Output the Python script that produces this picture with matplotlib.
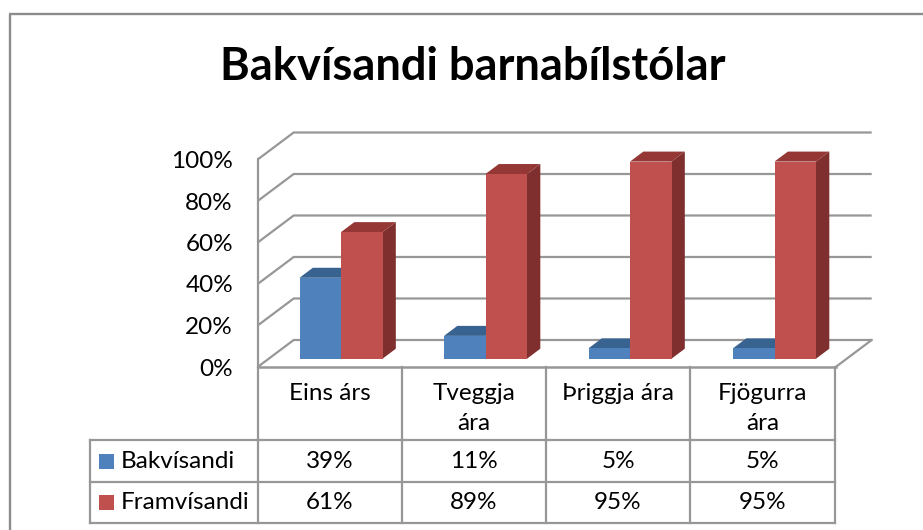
import matplotlib
matplotlib.use("Agg")
import matplotlib.pyplot as plt
from matplotlib.patches import Polygon, Rectangle

plt.rcParams['font.family'] = ['Lato', 'DejaVu Sans']

titulo = 'Bakvísandi barnabílstólar'
categorias = ['Eins árs', 'Tveggja\nára', 'Þriggja ára', 'Fjögurra\nára']
series = ['Bakvísandi', 'Framvísandi']
bakvisandi = [39, 11, 5, 5]
framvisandi = [61, 89, 95, 95]
ticks_y = [0, 20, 40, 60, 80, 100]

GRIS = '#979797'
AZUL = ('#4F81BD', '#386290')
ROJO = ('#C0504D', '#953735', '#7F302E')
FUENTE = 17.5

W, H = 923, 530
fig = plt.figure(figsize=(W / 100, H / 100), dpi=100)

# capa en pixeles: marco, titulo, tabla
pix = fig.add_axes([0, 0, 1, 1], zorder=2)
pix.set_xlim(0, W)
pix.set_ylim(H, 0)
pix.axis('off')
pix.patch.set_alpha(0)

# ejes del grafico: x en categorias, y en porcentaje, ocupan toda la figura
paso_x = 144.5
px_y = 2.075
x0, y0 = 341.0, 358.7
ax = fig.add_axes([0, 0, 1, 1], zorder=1)
ax.set_xlim(-x0 / paso_x, (W - x0) / paso_x)
ax.set_ylim(-(H - y0) / px_y, y0 / px_y)
ax.axis('off')

# profundidad: fraccion del suelo, 0 al frente y 1 al fondo
PROF_X = 36.0 / paso_x
PROF_Y = 27.0 / px_y
D_BARRA = 0.307
D_FONDO_BARRA = 0.677


def punto(x, y, d):
    return (x + (d - D_BARRA) * PROF_X, y + (d - D_BARRA) * PROF_Y)


n = len(categorias)
izq = -0.5
der = n - 0.5

# paredes y rejilla
for t in ticks_y:
    a = punto(izq, t, 0)
    b = punto(izq, t, 1)
    c = punto(der, t, 1)
    ax.plot([a[0], b[0], c[0]], [a[1], b[1], c[1]], color=GRIS, lw=1.6, zorder=1,
            solid_joinstyle='miter', solid_capstyle='butt')
a = punto(izq, 0, 0)
b = punto(izq, 100, 0)
ax.plot([a[0], b[0]], [a[1], b[1]], color=GRIS, lw=1.6, zorder=1)
a = punto(der, 0, 0)
b = punto(der, 0, 1)
ax.plot([a[0], b[0]], [a[1], b[1]], color=GRIS, lw=1.6, zorder=1)
a = punto(izq, 0, 0)
b = punto(der, 0, 0)
ax.plot([a[0], b[0]], [a[1], b[1]], color=GRIS, lw=1.8, zorder=1)

# barras
ancho = 41.5 / paso_x


def barra(x1, x2, v, colores, z):
    ax.add_patch(Polygon([punto(x1, v, D_BARRA), punto(x2, v, D_BARRA),
                          punto(x2, v, D_FONDO_BARRA), punto(x1, v, D_FONDO_BARRA)],
                         fc=colores[1], ec='none', zorder=z))
    if len(colores) > 2:
        ax.add_patch(Polygon([punto(x2, 0, D_BARRA), punto(x2, v, D_BARRA),
                              punto(x2, v, D_FONDO_BARRA), punto(x2, 0, D_FONDO_BARRA)],
                             fc=colores[2], ec='none', zorder=z))
    ax.add_patch(Rectangle((x1, 0), x2 - x1, v, fc=colores[0], ec='none', zorder=z + 0.1))


for i in range(n):
    barra(i - ancho, i, bakvisandi[i], AZUL, 3)
    barra(i, i + ancho, framvisandi[i], ROJO, 4)

# etiquetas eje y, alineadas al plano frontal
for t in ticks_y:
    yp = 369 - t * px_y
    pix.text(233, yp, f'{t}%', ha='right', va='center', fontsize=FUENTE, color='black')

# marco exterior
pix.plot([10, 10], [H, 14], color='#8C8C8C', lw=1.7, solid_capstyle='butt')
pix.plot([9.4, W], [14, 14], color='#8C8C8C', lw=1.7, solid_capstyle='butt')

pix.text(472.5, 67.5, titulo, ha='center', va='center', fontsize=32.6, fontweight='bold', color='black')

# tabla
xs = [90, 257.5, 402, 546, 690, 835]
ys = [367, 440, 482, 523]
for xv in xs[1:]:
    pix.plot([xv, xv], [ys[0], ys[-1]], color=GRIS, lw=1.6, solid_capstyle='projecting')
pix.plot([xs[0], xs[0]], [ys[1], ys[-1]], color=GRIS, lw=1.6, solid_capstyle='projecting')
for yv in ys[1:]:
    pix.plot([xs[0], xs[-1]], [yv, yv], color=GRIS, lw=1.6, solid_capstyle='projecting')

for i, cat in enumerate(categorias):
    xc = (xs[i + 1] + xs[i + 2]) / 2
    pix.text(xc, 383.5, cat, ha='center', va='top', fontsize=FUENTE, color='black', linespacing=1.5)
    pix.text(xc, (ys[1] + ys[2]) / 2, f'{bakvisandi[i]}%', ha='center', va='center', fontsize=FUENTE)
    pix.text(xc, (ys[2] + ys[3]) / 2, f'{framvisandi[i]}%', ha='center', va='center', fontsize=FUENTE)

for j, nombre in enumerate(series):
    yc = (ys[j + 1] + ys[j + 2]) / 2
    color = AZUL[0] if j == 0 else ROJO[0]
    pix.add_patch(Rectangle((99, yc - 7.5), 15, 15, fc=color, ec='none'))
    pix.text(120.5, yc, nombre, ha='left', va='center', fontsize=FUENTE, color='black')

fig.savefig('out.png', dpi=100)
